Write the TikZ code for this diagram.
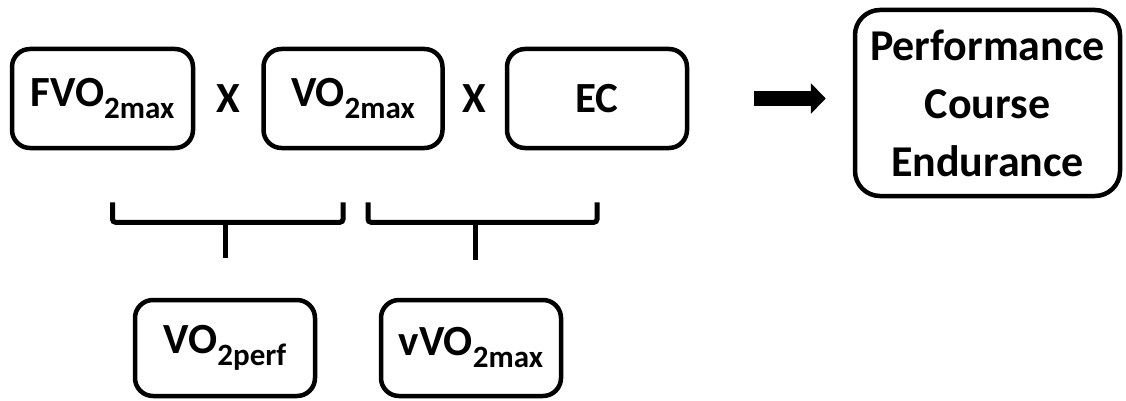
\documentclass[tikz,border=0pt]{standalone}
\usepackage{fontspec}
\setmainfont{Carlito}
\usetikzlibrary{positioning,arrows.meta,calc}

\newcommand{\lowidx}[1]{\raisebox{-12pt}{\fontsize{31}{31}\selectfont #1}}

\tikzset{
  term/.style={draw,line width=4.5pt,rounded corners=18pt,minimum width=180pt,minimum height=99pt,inner sep=0pt,font=\fontsize{43}{46}\selectfont\bfseries},
  times/.style={inner sep=0pt,font=\fontsize{43}{46}\selectfont\bfseries},
  brk/.style={line width=5pt,rounded corners=3pt},
}

\begin{document}
\begin{tikzpicture}[x=1pt,y=-1pt]
    \useasboundingbox (0,0) rectangle (1126,401);
    \node[term,minimum width=181pt] (fvo) at (102.5,98.5) {FVO\lowidx{2max}};
    \node[term,minimum width=179pt,right=66pt of fvo] (vo) {VO\lowidx{2max}};
    \node[term,right=60pt of vo] (ec) {EC};
    \node[term,rounded corners=25pt,minimum width=265pt,minimum height=186pt,align=center,font=\fontsize{44}{58}\selectfont\bfseries] (res) at (987.5,103) {Performance\\Course\\Endurance};
    \node[times] (x1) at ($(fvo.east)!0.5!(vo.west)$) {X};
    \node[times] (x2) at ($(vo.east)!0.5!(ec.west)$) {X};
    \node[term,minimum height=96pt] (perf) at (225,348) {VO\lowidx{2perf}};
    \node[term,minimum height=96pt] (vv) at (471,348) {vVO\lowidx{2max}};

    % brackets
    \coordinate (lb) at ([yshift=-72pt]fvo.south);
    \draw[brk] ([xshift=10pt,yshift=-52pt]fvo.south) -- ([xshift=10pt]lb) -| ([xshift=-10pt,yshift=-52pt]vo.south);
    \draw[brk] ([xshift=15pt,yshift=-52pt]vo.south) -- ([xshift=15pt,yshift=-72pt]vo.south) -| ([yshift=-52pt]ec.south);
    \draw[line width=5pt] (perf.north |- lb) -- ([yshift=40pt]perf.north);
    \draw[line width=5pt] ([xshift=4pt]vv.north |- lb) -- ([xshift=4pt,yshift=38pt]vv.north);

    \draw[line width=15pt,-{Triangle[length=15pt,width=30pt]}] ([xshift=65pt]ec.east) -- ([xshift=-27pt]ec.east -| res.west);
\end{tikzpicture}
\end{document}
